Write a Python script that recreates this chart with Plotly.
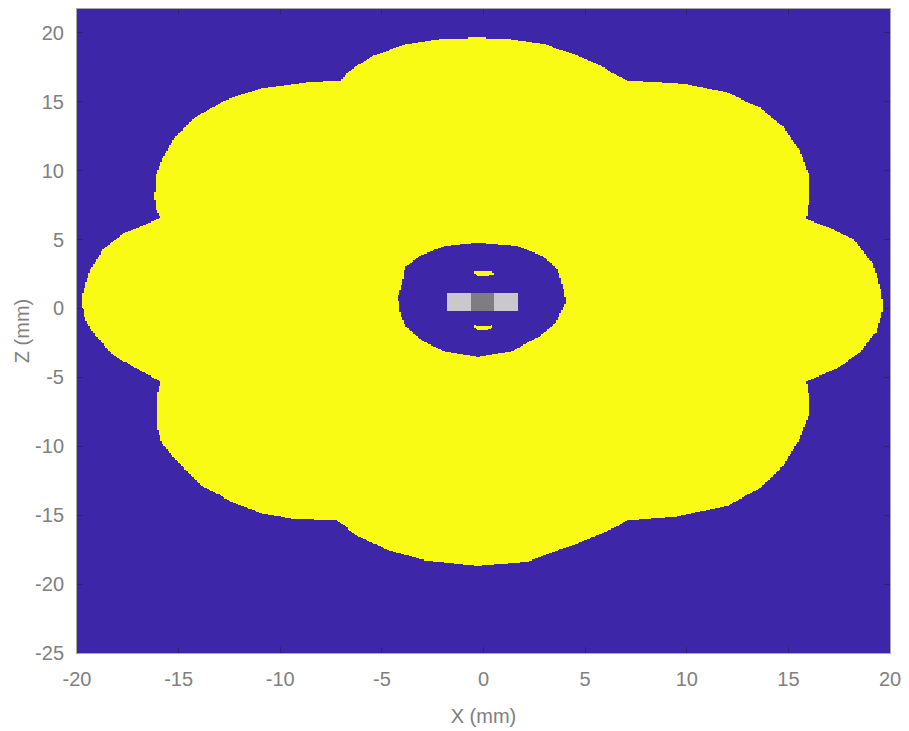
import numpy as np
import plotly.graph_objects as go

# Outer boundary of the yellow (heated) region, in mm, traced clockwise from the top
outer_x = [-0.3, 1.35, 3.0, 4.6, 5.95, 7.05,
           9.85, 12.0, 13.6, 14.75, 15.55, 16.0, 16.05, 15.9,
           17.0, 18.2, 19.15, 19.55, 19.65, 19.3, 18.5, 17.35, 15.9,
           16.05, 16.0, 15.55, 14.75, 13.6, 12.0, 9.5, 7.05,
           6.6, 4.6, 2.2, -0.3, -2.95, -4.6, -6.25, -7.2,
           -9.45, -10.95, -12.4, -13.9, -15.2, -15.85, -16.1, -16.1, -15.9,
           -16.8, -18.15, -19.1, -19.6, -19.75, -19.7, -19.35, -18.75, -17.65, -15.9,
           -16.1, -16.2, -16.1, -15.85, -15.2, -14.2, -12.75, -10.95, -8.7, -7.0,
           -6.75, -5.4, -3.8, -2.2]
outer_z = [19.65, 19.55, 19.2, 18.35, 17.45, 16.55,
           16.3, 15.65, 14.6, 13.15, 11.5, 9.8, 8.1, 6.45,
           5.9, 5.0, 3.3, 1.35, -0.05, -1.75, -3.2, -4.4, -5.25,
           -6.55, -7.8, -9.45, -11.4, -13.05, -14.3, -15.1, -15.4,
           -15.8, -17.05, -18.35, -18.65, -18.25, -17.6, -16.45, -15.4,
           -15.25, -14.85, -14.0, -12.85, -10.9, -9.7, -8.5, -6.55, -5.25,
           -4.6, -3.45, -2.0, -0.8, 0.3, 1.15, 2.8, 4.25, 5.5, 6.55,
           7.15, 8.1, 9.8, 10.75, 12.4, 13.85, 15.1, 15.95, 16.4, 16.55,
           17.1, 18.35, 19.2, 19.55]

# Unheated pocket around the transducer, in mm
hole_x = [-0.3, 1.7, 3.0, 3.65, 3.9, 4.05, 3.55, 2.7, 1.35, -0.3,
          -1.9, -3.05, -3.8, -4.1, -4.2, -3.95, -3.85, -3.05, -1.9]
hole_z = [4.75, 4.5, 3.75, 2.8, 1.6, 0.45, -1.05, -2.1, -3.1, -3.5,
          -3.1, -2.35, -1.35, -0.3, 0.85, 2.1, 3.05, 3.9, 4.5]

# Small heated spots inside the pocket, in mm
spot_top_x = [-0.45, 0.45, 0.5, 0.1, -0.3, -0.45]
spot_top_z = [2.7, 2.7, 2.45, 2.3, 2.35, 2.5]
spot_bot_x = [-0.5, -0.2, 0.2, 0.45, 0.4, 0.0, -0.4]
spot_bot_z = [-1.2, -1.3, -1.3, -1.2, -1.45, -1.6, -1.5]

# Transducer elements: x edges (mm), shade level of each element, z extent (mm)
element_x_edges = [-1.8, -0.65, 0.5, 1.7]
element_levels = [2, 3, 2]
element_z = [-0.2, 1.15]

x_ticks = [-20, -15, -10, -5, 0, 5, 10, 15, 20]
z_ticks = [-25, -20, -15, -10, -5, 0, 5, 10, 15, 20]

grid_x = np.arange(-20.0, 20.0001, 0.075)
grid_z = np.arange(-25.0, 21.75, 0.075)
GX, GZ = np.meshgrid(grid_x, grid_z)


def inside(px, pz, vx, vz):
    """Even-odd point-in-polygon test on a grid."""
    vx = np.asarray(vx, float)
    vz = np.asarray(vz, float)
    res = np.zeros(px.shape, bool)
    for i in range(len(vx)):
        j = i - 1
        xi, zi, xj, zj = vx[i], vz[i], vx[j], vz[j]
        if zi == zj:
            continue
        cross = (zi > pz) != (zj > pz)
        xint = (xj - xi) * (pz - zi) / (zj - zi) + xi
        res ^= cross & (px < xint)
    return res


field = np.zeros(GX.shape, dtype=np.int8)
field[inside(GX, GZ, outer_x, outer_z)] = 1
field[inside(GX, GZ, hole_x, hole_z)] = 0
field[inside(GX, GZ, spot_top_x, spot_top_z)] = 1
field[inside(GX, GZ, spot_bot_x, spot_bot_z)] = 1
for k, level in enumerate(element_levels):
    m = ((GX >= element_x_edges[k]) & (GX < element_x_edges[k + 1])
         & (GZ >= element_z[0]) & (GZ <= element_z[1]))
    field[m] = level

BLUE = "#3E26A8"
YELLOW = "#F9FB15"
LIGHT = "#C9C9CB"
DARK = "#7E7E80"
colorscale = [[0.0, BLUE], [0.16, BLUE], [0.17, YELLOW], [0.5, YELLOW],
              [0.51, LIGHT], [0.83, LIGHT], [0.84, DARK], [1.0, DARK]]

fig = go.Figure(go.Heatmap(
    x=grid_x, y=grid_z, z=field.tolist(), zmin=0, zmax=3,
    colorscale=colorscale, showscale=False, hoverinfo="skip",
))

axis_font = dict(family="Liberation Sans, Arial, sans-serif", size=20, color="#808080")
common = dict(
    showgrid=False, zeroline=False, ticks="inside", ticklen=6, tickwidth=1,
    tickcolor="#2c2470", showline=True, linecolor="#a8a8a8", linewidth=1,
    mirror="ticks", tickfont=axis_font,
)
fig.update_xaxes(range=[-20, 20], tickvals=x_ticks, ticktext=[str(v) for v in x_ticks],
                 ticklabelstandoff=8,
                 title=dict(text="X (mm)", font=axis_font, standoff=19), **common)
fig.update_yaxes(range=[-25, 21.73], tickvals=z_ticks, ticktext=[str(v) for v in z_ticks],
                 ticklabelstandoff=8,
                 title=dict(text="Z (mm)", font=axis_font, standoff=0), **common)

fig.update_layout(
    width=909, height=731,
    margin=dict(l=77, r=15, t=8, b=77),
    paper_bgcolor="white", plot_bgcolor=BLUE,
)

fig.write_html("out.html")
